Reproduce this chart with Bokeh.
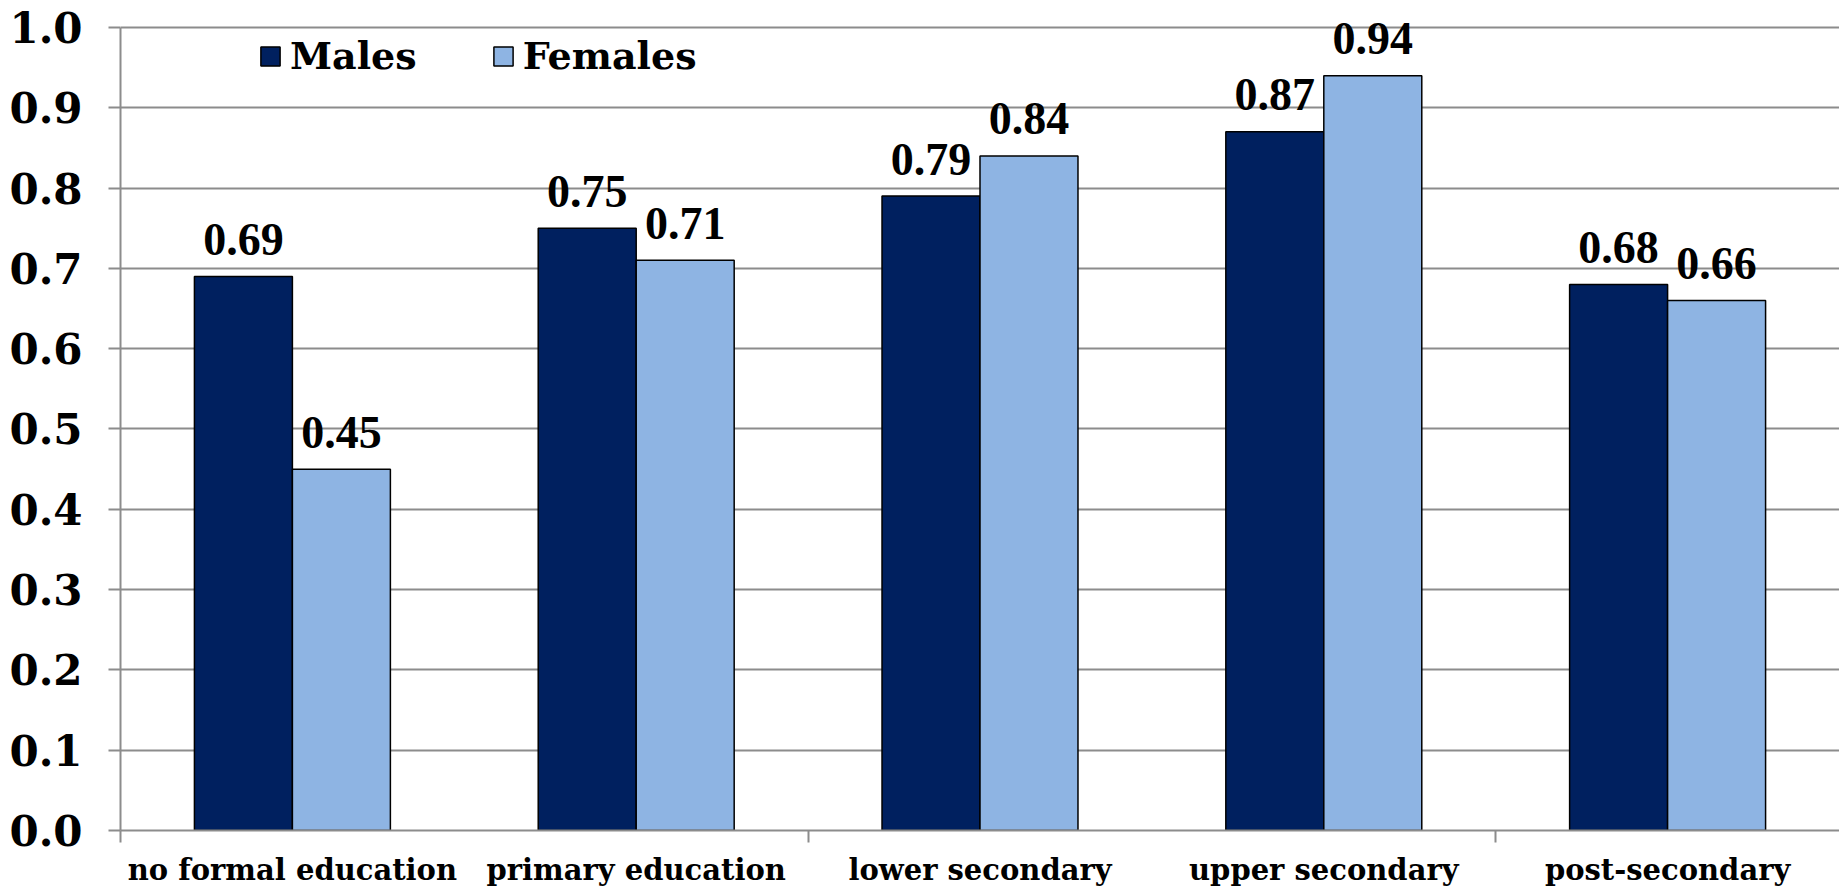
import numpy as np
from bokeh.plotting import figure
from bokeh.models import (ColumnDataSource, FixedTicker, PrintfTickFormatter,
                          Range1d, LabelSet)
from bokeh.embed import file_html
from bokeh.resources import INLINE

# Education levels and rates by sex
categories = ["no formal education", "primary education", "lower secondary",
              "upper secondary", "post-secondary"]
males = [0.69, 0.75, 0.79, 0.87, 0.68]
females = [0.45, 0.71, 0.84, 0.94, 0.66]
y_ticks = [0.0, 0.1, 0.2, 0.3, 0.4, 0.5, 0.6, 0.7, 0.8, 0.9, 1.0]

MALE_COLOR = "#00205F"
FEMALE_COLOR = "#8EB4E3"
GRID_COLOR = "#8c8c8c"
FONT = "DejaVu Serif"

bar_w = 0.285
centers = np.arange(len(categories)) + 0.5

src_m = ColumnDataSource(dict(x=centers - bar_w / 2, top=males,
                              lab=[f"{v:.2f}" for v in males]))
src_f = ColumnDataSource(dict(x=centers + bar_w / 2, top=females,
                              lab=[f"{v:.2f}" for v in females]))

# a little headroom above 1.0 so the tallest value label is not clipped
p = figure(width=1839, height=889, output_backend="svg", toolbar_location=None,
           x_range=Range1d(0, len(categories)), y_range=Range1d(0, 1.0211),
           min_border_left=120, min_border_right=0, min_border_top=10,
           min_border_bottom=55, background_fill_color="white",
           border_fill_color="white")
p.outline_line_color = None

p.vbar(x="x", top="top", width=bar_w, source=src_m, fill_color=MALE_COLOR,
       line_color="black", line_width=1.5, legend_label="Males")
p.vbar(x="x", top="top", width=bar_w, source=src_f, fill_color=FEMALE_COLOR,
       line_color="black", line_width=1.5, legend_label="Females")

for src in (src_m, src_f):
    p.add_layout(LabelSet(x="x", y="top", text="lab", source=src,
                          text_align="center", text_baseline="middle",
                          y_offset=37, text_font=FONT, text_font_style="bold",
                          text_font_size="46px", text_color="black"))

# y axis
p.yaxis.ticker = FixedTicker(ticks=y_ticks)
p.yaxis.formatter = PrintfTickFormatter(format="%.1f")
p.yaxis.bounds = (0, 1.0)
p.yaxis.axis_line_color = GRID_COLOR
p.yaxis.axis_line_width = 2
p.yaxis.major_tick_line_color = GRID_COLOR
p.yaxis.major_tick_line_width = 2
p.yaxis.major_tick_out = 12
p.yaxis.major_tick_in = 0
p.yaxis.minor_tick_line_color = None
p.yaxis.major_label_standoff = 26
p.yaxis.major_label_text_font = FONT
p.yaxis.major_label_text_font_style = "bold"
p.yaxis.major_label_text_font_size = "42px"
p.yaxis.major_label_text_color = "black"

# x axis: labels at category centres, tick marks every two categories
p.xaxis.ticker = FixedTicker(ticks=list(centers), minor_ticks=[0, 2, 4])
p.xaxis.major_label_overrides = {float(c): n for c, n in zip(centers, categories)}
p.xaxis.axis_line_color = GRID_COLOR
p.xaxis.axis_line_width = 2
p.xaxis.major_tick_line_color = None
p.xaxis.major_tick_out = 0
p.xaxis.major_tick_in = 0
p.xaxis.minor_tick_line_color = GRID_COLOR
p.xaxis.minor_tick_line_width = 2
p.xaxis.minor_tick_out = 12
p.xaxis.minor_tick_in = 0
p.xaxis.major_label_standoff = 10
p.xaxis.major_label_text_font = FONT
p.xaxis.major_label_text_font_style = "bold"
p.xaxis.major_label_text_font_size = "29px"
p.xaxis.major_label_text_color = "black"

p.xgrid.grid_line_color = None
p.ygrid.ticker = FixedTicker(ticks=y_ticks)
p.ygrid.grid_line_color = GRID_COLOR
p.ygrid.grid_line_width = 2

p.legend.location = (138, 752)
p.legend.orientation = "horizontal"
p.legend.border_line_color = None
p.legend.background_fill_alpha = 0
p.legend.padding = 0
p.legend.margin = 0
p.legend.spacing = 74
p.legend.glyph_width = 24
p.legend.glyph_height = 24
p.legend.label_standoff = 8
p.legend.label_text_font = FONT
p.legend.label_text_font_style = "bold"
p.legend.label_text_font_size = "38px"
p.legend.label_text_color = "black"

open("out.html", "w").write(file_html(p, INLINE))
